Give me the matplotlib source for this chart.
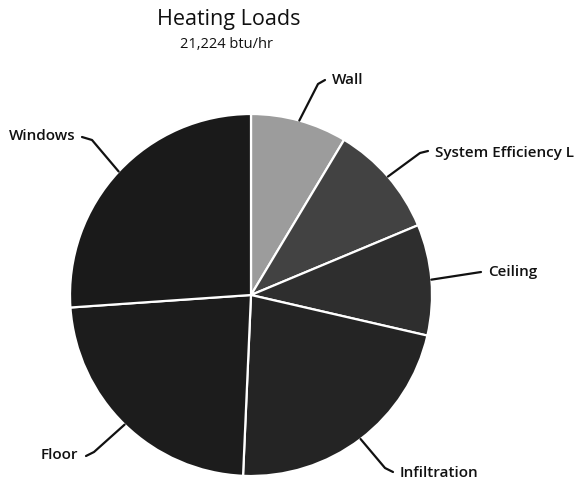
import matplotlib.pyplot as plt
import numpy as np

# heating load share per component, percent of 21,224 btu/hr
labels = ['Wall', 'System Efficiency L', 'Ceiling', 'Infiltration', 'Floor', 'Windows']
shares = [8.6, 10.1, 9.9, 22.1, 23.2, 26.1]
colors = ['#9c9c9c', '#424242', '#2e2e2e', '#242424', '#1c1c1c', '#1a1a1a']

W, H = 578, 483
fig = plt.figure(figsize=(W / 100, H / 100), dpi=100)
ax = fig.add_axes([0, 0, 1, 1])

cx, cy, R = 251, H - 295, 181
wedges, _ = ax.pie(shares, colors=colors, startangle=90, counterclock=False,
                   center=(cx, cy), radius=R, frame=True,
                   wedgeprops=dict(edgecolor='white', linewidth=1.6))
ax.set_xlim(0, W)
ax.set_ylim(0, H)
ax.set_aspect('equal')
ax.axis('off')

font = dict(family=['Open Sans', 'DejaVu Sans'], weight='semibold', color='#111111')

ax.text(229, H - 20, 'Heating Loads', ha='center', va='center', fontsize=15.5,
        family=['Open Sans', 'DejaVu Sans'], color='#111111')
ax.text(227, H - 45, '21,224 btu/hr', ha='center', va='center', fontsize=10.5,
        family=['Open Sans', 'DejaVu Sans'], color='#111111')

# label anchor (pixels from top-left), alignment, knee points of the leader
label_pos = {
    'Wall': ((332, 80), 'left', [(325, 80), (318, 84)]),
    'System Efficiency L': ((435, 153), 'left', [(428, 151), (420, 153)]),
    'Ceiling': ((488, 272), 'left', [(481, 272)]),
    'Infiltration': ((400, 473), 'left', [(393, 472), (385, 468)]),
    'Floor': ((78, 455), 'right', [(86, 456), (94, 452)]),
    'Windows': ((76, 136), 'right', [(82, 137), (92, 140)]),
}

for w, lab in zip(wedges, labels):
    mid = np.deg2rad((w.theta1 + w.theta2) / 2)
    ex, ey = cx + R * np.cos(mid), cy + R * np.sin(mid)
    (tx, ty), ha, knees = label_pos[lab]
    ax.text(tx, H - ty, lab, ha=ha, va='center', fontsize=11, **font)
    xs = [k[0] for k in knees] + [ex]
    ys = [H - k[1] for k in knees] + [ey]
    ax.plot(xs, ys, color='#111111', lw=1.6, solid_capstyle='round')

fig.savefig('out.png', dpi=100)
